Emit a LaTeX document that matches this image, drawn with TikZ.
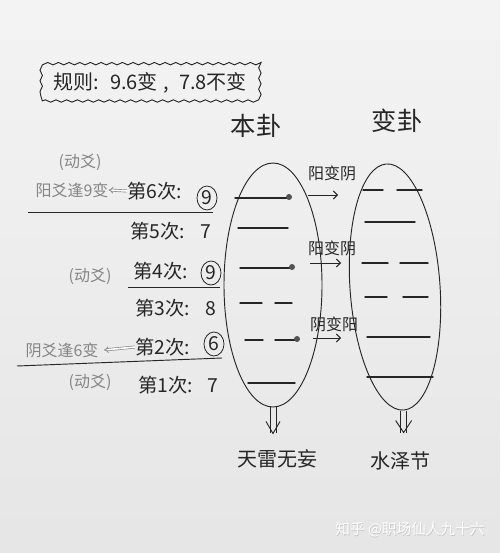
\documentclass[tikz,border=0pt]{standalone}
\usepackage{fontspec}
\setmainfont{Noto Sans CJK SC}
\usetikzlibrary{shapes.geometric,decorations.pathmorphing,arrows.meta,calc}
\definecolor{ink}{gray}{0.15}
\definecolor{pencil}{gray}{0.52}
\begin{document}
\begin{tikzpicture}[x=0.75pt,y=-0.75pt,
  hand/.style={font=\fontsize{14.5}{14.5}\selectfont, text=ink, inner sep=0pt},
  titletext/.style={font=\fontsize{19}{19}\selectfont, text=ink, inner sep=0pt},
  tiny/.style={font=\fontsize{12}{12}\selectfont, text=ink, inner sep=0pt},
  note/.style={font=\fontsize{12}{12}\selectfont, text=pencil, inner sep=0pt},
  yao/.style={line width=1.1pt, draw=ink, line cap=round},
  yaodot/.style={circle, fill=ink!80, inner sep=0pt, minimum size=4.5pt},
  circ/.style={ellipse, draw=ink, line width=0.6pt, inner sep=0pt, minimum width=15pt, minimum height=18pt, font=\fontsize{14.5}{14.5}\selectfont, text=ink},
  oval/.style={ellipse, draw=ink, line width=0.7pt},
  rulebar/.style={draw=ink, line width=0.7pt},
  chg/.style={draw=ink, line width=0.7pt, -{Straight Barb[length=3pt]}},
  back/.style={draw=pencil, line width=0.5pt, double, double distance=1.2pt, -{Implies}}
]
\shade[top color=gray!9, bottom color=gray!20] (0,0) rectangle (500,553);
\useasboundingbox (0,0) rectangle (500,553);

% rule box
\node[draw=ink, line width=0.7pt, decorate, decoration={snake, segment length=8pt, amplitude=0.9pt},
      minimum width=162pt, minimum height=27pt, font=\fontsize{15}{15}\selectfont, text=ink]
  (rule) at (150,83) {规则:\; 9.6变\;,\; 7.8不变};

% titles
\node[titletext] (bentitle) at (256,126) {本卦};
\node[titletext] (biantitle) at (397,121) {变卦};

% ovals
\node[oval, minimum width=73.5pt, minimum height=183pt] (ben) at (273,285) {};
\node[oval, minimum width=67.5pt, minimum height=185pt, rotate=4] (bian) at (395,287) {};

% stems and down arrows
\draw[ink, line width=0.7pt] ($(ben.south)+(-3,0)$) -- ++(0,26);
\draw[ink, line width=0.7pt] ($(ben.south)+(3,0)$) -- ++(0,26);
\draw[ink, line width=0.7pt] ($(ben.south)+(-7,14)$) -- ++(7,12) -- ++(7,-12);
\draw[ink, line width=0.7pt] ($(bian.south)+(-3,0)$) -- ++(0,22);
\draw[ink, line width=0.7pt] ($(bian.south)+(3,0)$) -- ++(0,22);
\draw[ink, line width=0.7pt] ($(bian.south)+(-8,10)$) -- ++(8,12) -- ++(8,-12);

% result names
\node[font=\fontsize{15}{15}\selectfont, text=ink, inner sep=0pt] (benname) at (277,459) {天雷无妄};
\node[font=\fontsize{15}{15}\selectfont, text=ink, inner sep=0pt] (bianname) at (400,461) {水泽节};

% ben gua lines (top to bottom)
\draw[yao] (235,198) -- (287,198);
\node[yaodot] (dot6) at (289,197) {};
\draw[yao] (238,228) -- (288,228);
\draw[yao] (240,268) -- (290,268);
\node[yaodot] (dot4) at (292,267) {};
\draw[yao] (240,303) -- (262,303);
\draw[yao] (275,303) -- (292,303);
\draw[yao] (245,340) -- (263,340);
\draw[yao] (275,340) -- (295,340);
\node[yaodot] (dot2) at (297,339) {};
\draw[yao] (248,383) -- (295,383);

% bian gua lines
\draw[yao] (363,190) -- (383,190);
\draw[yao] (397,190) -- (422,190);
\draw[yao] (365,222) -- (415,222);
\draw[yao] (362,263) -- (388,263);
\draw[yao] (400,263) -- (428,263);
\draw[yao] (365,297) -- (387,297);
\draw[yao] (403,297) -- (428,297);
\draw[yao] (367,337) -- (430,337);
\draw[yao] (367,377) -- (433,377);

% change arrows
\node[tiny] (c6) at (332,173) {阳变阴};
\coordinate (c6a) at (308,195);
\coordinate (c6b) at (338,195);
\draw[chg] (c6a) -- (c6b);
\node[tiny] (c4) at (332,248) {阳变阴};
\coordinate (c4a) at (310,263);
\coordinate (c4b) at (341,263);
\draw[chg] (c4a) -- (c4b);
\node[tiny] (c2) at (334,324) {阴变阳};
\coordinate (c2a) at (313,338);
\coordinate (c2b) at (341,338);
\draw[chg] (c2a) -- (c2b);

% left column rows
\node[hand, anchor=west] (r6) at (127,191) {第6次:};
\node[circ] (d6) at (207,198) {9};
\node[hand, anchor=west] (r5) at (130,231) {第5次:};
\node[hand] (d5) at (206,232) {7};
\node[hand, anchor=west] (r4) at (133,271) {第4次:};
\node[circ] (d4) at (211,273) {9};
\node[hand, anchor=west] (r3) at (135,308) {第3次:};
\node[hand] (d3) at (211,309) {8};
\node[hand, anchor=west] (r2) at (135,347) {第2次:};
\node[circ] (d2) at (214,344) {6};
\node[hand, anchor=west] (r1) at (138,385) {第1次:};
\node[hand] (d1) at (213,386) {7};

% separators
\draw[rulebar] (28,212) -- (213,212);
\draw[rulebar] (128,287) -- (220,287);
\draw[rulebar] (17,366) -- (222,358);

% pencil notes
\node[note] (m6) at (80,162) {(动爻)};
\node[note] (n6) at (72,190) {阳爻逢9变};
\draw[back] (r6.west) -- (n6.east);
\node[note] (m4) at (90,276) {(动爻)};
\node[note] (n2) at (62,350) {阴爻逢6变};
\draw[back] (r2.west) -- ([xshift=4pt]n2.east);
\node[note] (m1) at (90,382) {(动爻)};

% watermark
\node[font=\fontsize{11}{11}\selectfont, text=gray!45, inner sep=0pt] (wmshadow) at (410.6,530.6) {知乎 @职场仙人九十六};
\node[font=\fontsize{11}{11}\selectfont, text=white, inner sep=0pt] (wm) at (410,530) {知乎 @职场仙人九十六};
\end{tikzpicture}
\end{document}
